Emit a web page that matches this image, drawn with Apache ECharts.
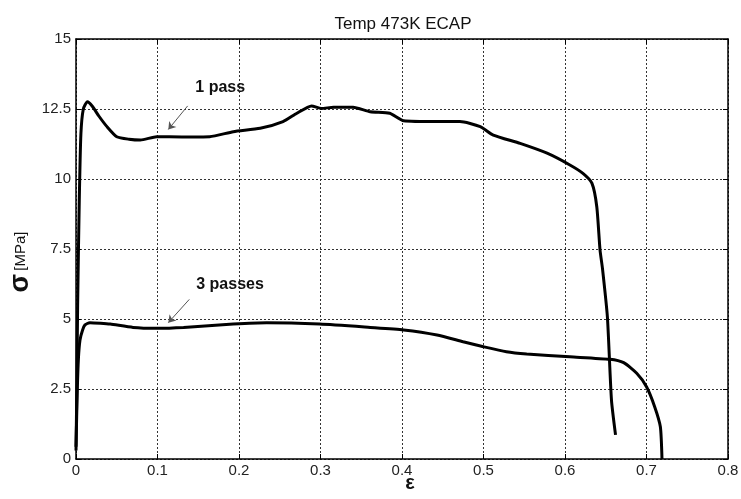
<!DOCTYPE html>
<html>
<head>
<meta charset="utf-8">
<script src="https://cdn.jsdelivr.net/npm/echarts@6/dist/echarts.min.js"></script>
<style>
  html, body { margin: 0; padding: 0; background: #fff; }
  #main { width: 741px; height: 499px; }
</style>
</head>
<body>
<div id="main"></div>
<script>
// strain / stress
const onePassStrain = [0, 0.001, 0.002, 0.004, 0.006, 0.009, 0.014, 0.02, 0.028, 0.038, 0.05, 0.065, 0.079, 0.099, 0.13, 0.164, 0.193, 0.226, 0.254, 0.271, 0.289, 0.301, 0.316, 0.34, 0.361, 0.385, 0.402, 0.443, 0.471, 0.496, 0.512, 0.545, 0.578, 0.606, 0.622, 0.633, 0.639, 0.643, 0.646, 0.652, 0.657, 0.662]
const onePassStress = [0.3, 2.5, 5.5, 9.2, 11.6, 12.5, 12.76, 12.6, 12.25, 11.87, 11.51, 11.42, 11.39, 11.51, 11.5, 11.51, 11.69, 11.81, 12.05, 12.35, 12.61, 12.52, 12.56, 12.56, 12.4, 12.35, 12.08, 12.05, 12.05, 11.87, 11.57, 11.27, 10.92, 10.5, 10.2, 9.85, 9.01, 7.46, 6.8, 5.08, 2.11, 0.86]

const threePassStrain = [0, 0.0016, 0.003, 0.0049, 0.008, 0.011, 0.017, 0.03, 0.042, 0.07, 0.099, 0.132, 0.193, 0.234, 0.299, 0.361, 0.402, 0.443, 0.475, 0.5, 0.528, 0.553, 0.606, 0.655, 0.672, 0.688, 0.7, 0.71, 0.717, 0.719]
const threePassStress = [0.44, 2.46, 3.6, 4.25, 4.6, 4.79, 4.87, 4.85, 4.82, 4.7, 4.67, 4.7, 4.82, 4.87, 4.82, 4.7, 4.61, 4.43, 4.19, 4.01, 3.83, 3.75, 3.65, 3.56, 3.44, 3.06, 2.58, 1.87, 1.15, 0]

const xTicks = [0, 0.1, 0.2, 0.3, 0.4, 0.5, 0.6, 0.7, 0.8]
const yTicks = [0, 2.5, 5, 7.5, 10, 12.5, 15]

// annotation text and arrows (data coords)
const labels = [
  { text: '1 pass', coord: [0.177, 13.25] },
  { text: '3 passes', coord: [0.189, 6.24] }
]
const arrows = [
  [[0.137, 12.61], [0.1133, 11.77]],
  [[0.139, 5.70], [0.1133, 4.87]]
]

const font = 'Liberation Sans, Arial, Helvetica, sans-serif'

function pairs(xs, ys) {
  return xs.map((x, i) => [x, ys[i]])
}

const chart = echarts.init(document.getElementById('main'))

const gridLine = { show: true, lineStyle: { color: '#333', width: 1, type: [2, 2] } }
const axisLine = { show: true, onZero: false, lineStyle: { color: '#000', width: 1.5 } }

chart.setOption({
  backgroundColor: '#fff',
  animation: false,
  title: {
    text: 'Temp 473K ECAP',
    left: 398,
    top: 11,
    textAlign: 'center',
    textStyle: { fontFamily: font, fontSize: 17, fontWeight: 'normal', color: '#111' }
  },
  grid: { left: 76, right: 13, top: 39, bottom: 40, containLabel: false, outerBoundsMode: 'none' },
  xAxis: [
    {
      type: 'value',
      min: 0, max: 0.8, interval: 0.1,
      name: 'ε',
      nameLocation: 'middle',
      nameGap: 14,
      nameMoveOverlap: false,
      nameTextStyle: { fontFamily: font, fontSize: 20, fontWeight: 'bold', color: '#111', padding: [0, 0, 0, 16] },
      axisLine: axisLine,
      axisTick: { show: true, inside: true, length: 5, lineStyle: { color: '#000' } },
      axisLabel: {
        margin: 4,
        fontFamily: font, fontSize: 15, color: '#222',
        formatter: v => xTicks.includes(Math.round(v * 10) / 10) ? String(Math.round(v * 10) / 10) : ''
      },
      splitLine: gridLine
    },
    {
      type: 'value', position: 'top',
      min: 0, max: 0.8, interval: 0.1,
      axisLine: axisLine,
      axisTick: { show: true, inside: true, length: 5, lineStyle: { color: '#000' } },
      axisLabel: { show: false },
      splitLine: { show: false }
    }
  ],
  yAxis: [
    {
      type: 'value',
      min: 0, max: 15, interval: 2.5,
      name: '{s|σ} {u|[MPa]}',
      nameLocation: 'middle',
      nameGap: 42,
      nameMoveOverlap: false,
      nameTextStyle: {
        padding: [0, 26, 0, 0],
        rich: {
          s: { fontFamily: font, fontSize: 27, fontWeight: 'bold', color: '#111' },
          u: { fontFamily: font, fontSize: 15, color: '#111' }
        }
      },
      axisLine: axisLine,
      axisTick: { show: true, inside: true, length: 5, lineStyle: { color: '#000' } },
      axisLabel: {
        margin: 5,
        fontFamily: font, fontSize: 15, color: '#222',
        formatter: v => yTicks.includes(v) ? String(v) : ''
      },
      splitLine: gridLine
    },
    {
      type: 'value', position: 'right',
      min: 0, max: 15, interval: 2.5,
      axisLine: axisLine,
      axisTick: { show: true, inside: true, length: 5, lineStyle: { color: '#000' } },
      axisLabel: { show: false },
      splitLine: { show: false }
    }
  ],
  series: [
    {
      name: '1 pass',
      type: 'line',
      showSymbol: false,
      smooth: 0.2,
      lineStyle: { color: '#000', width: 3 },
      data: pairs(onePassStrain, onePassStress),
      markPoint: {
        symbol: 'circle', symbolSize: 0,
        label: {
          show: true, position: 'inside',
          fontFamily: font, fontSize: 16, fontWeight: 'bold', color: '#111',
          formatter: p => p.name
        },
        data: labels.map(l => ({ name: l.text, coord: l.coord }))
      },
      markLine: {
        silent: true,
        symbol: ['none', 'arrow'],
        symbolSize: 7,
        label: { show: false },
        lineStyle: { color: '#555', width: 1, type: 'solid' },
        data: arrows.map(a => [{ coord: a[0] }, { coord: a[1] }])
      }
    },
    {
      name: '3 passes',
      type: 'line',
      showSymbol: false,
      smooth: 0.2,
      lineStyle: { color: '#000', width: 3 },
      data: pairs(threePassStrain, threePassStress)
    }
  ]
})
</script>
</body>
</html>
